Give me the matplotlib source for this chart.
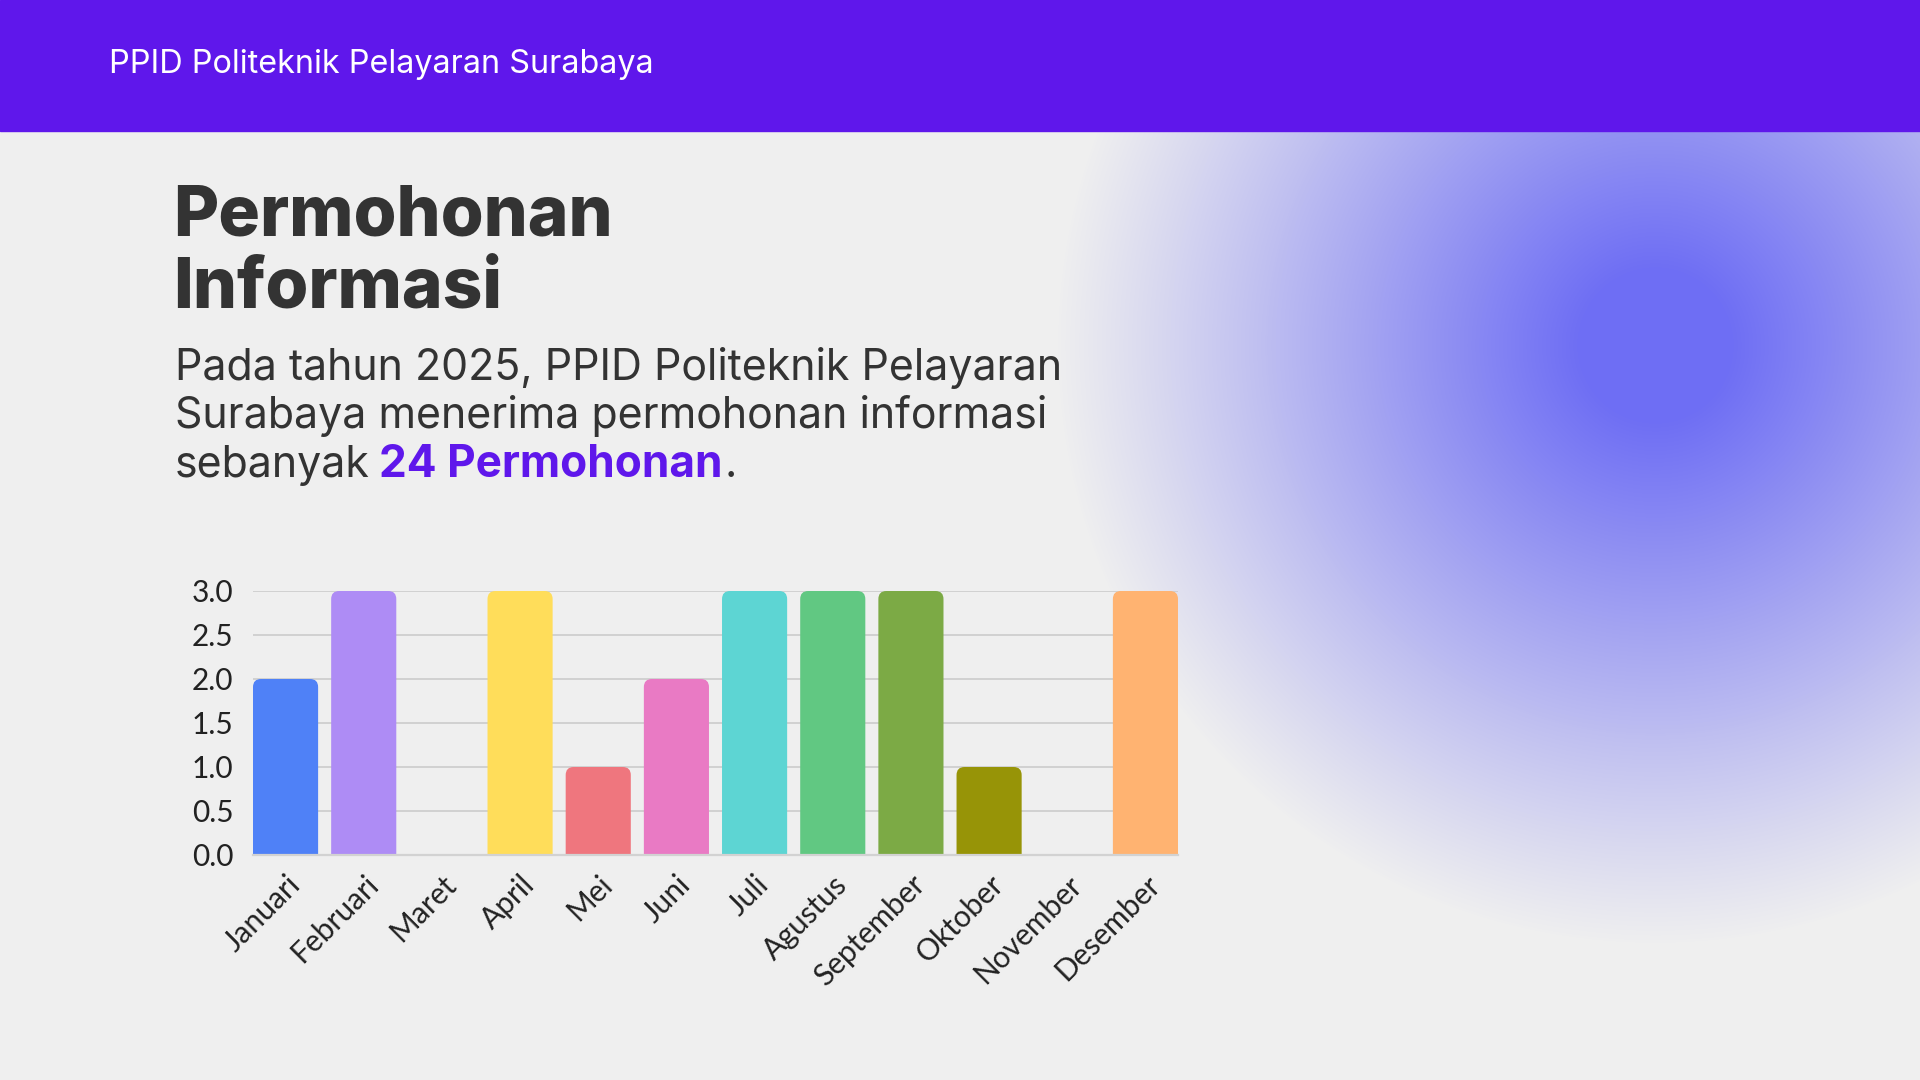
import numpy as np
import matplotlib.pyplot as plt
from matplotlib.patches import FancyBboxPatch, Rectangle

# data
bulan = ["Januari", "Februari", "Maret", "April", "Mei", "Juni", "Juli",
         "Agustus", "September", "Oktober", "November", "Desember"]
jumlah = [2, 3, 0, 3, 1, 2, 3, 3, 3, 1, 0, 3]
warna = ["#4f81f7", "#ae8cf5", "#9e9e9e", "#ffdd5a", "#ef767e", "#e97ac4",
         "#5dd5d3", "#61c882", "#7caa45", "#979407", "#cccccc", "#ffb371"]
y_ticks = [0.0, 0.5, 1.0, 1.5, 2.0, 2.5, 3.0]
tahun = 2025
total = sum(jumlah)

W, H = 1920, 1080
UNGU = "#5f17eb"
GELAP = "#333333"
BG = "#efefef"

fig = plt.figure(figsize=(19.2, 10.8), dpi=100)
fig.patch.set_facecolor(BG)

# background layer, pixel coordinates (y down)
bg = fig.add_axes([0, 0, 1, 1], zorder=0)
bg.set_xlim(0, W)
bg.set_ylim(H, 0)
bg.set_axis_off()

# soft purple glow on the right
yy, xx = np.mgrid[0:H, 0:W]
r = np.hypot(xx - 1655, yy - 345)
t = np.clip(1 - r / 600, 0, 1)
a = np.clip(t * 1.15, 0, 1) ** 1.05
img = np.zeros((H, W, 4))
img[..., 0] = 0.435
img[..., 1] = 0.435
img[..., 2] = 0.957
img[..., 3] = a
bg.imshow(img, extent=(0, W, H, 0), interpolation="bilinear", zorder=0)

# header bar
bg.add_patch(Rectangle((0, 0), W, 131, color=UNGU, zorder=2))
bg.text(109, 64, "PPID Politeknik Pelayaran Surabaya", color="white",
        fontsize=23.3, family="Inter", va="center", ha="left", zorder=3)

# title
bg.text(173, 236, "Permohonan", color=GELAP, fontsize=50, family="Inter",
        fontweight="heavy", va="baseline", zorder=3)
bg.text(173, 308, "Informasi", color=GELAP, fontsize=50, family="Inter",
        fontweight="heavy", va="baseline", zorder=3)

# subtitle
sub_fs = 30.9
bg.text(175, 380, f"Pada tahun {tahun}, PPID Politeknik Pelayaran", color=GELAP,
        fontsize=sub_fs, family="Inter", va="baseline", zorder=3)
bg.text(175, 428, "Surabaya menerima permohonan informasi", color=GELAP,
        fontsize=sub_fs, family="Inter", va="baseline", zorder=3)
t1 = bg.text(175, 477, "sebanyak", color=GELAP, fontsize=sub_fs,
             family="Inter", va="baseline", zorder=3)
fig.canvas.draw()
rend = fig.canvas.get_renderer()
inv = bg.transData.inverted()
x1 = inv.transform(t1.get_window_extent(rend))[1][0]
t2 = bg.text(x1 + 9, 477, f"{total} Permohonan", color=UNGU, fontsize=31.8,
             family="Inter", fontweight="bold", va="baseline", zorder=3)
x2 = inv.transform(t2.get_window_extent(rend))[1][0]
bg.text(x2 + 2, 477, ".", color=GELAP, fontsize=sub_fs, family="Inter",
        va="baseline", zorder=3)

# bar chart
ax = fig.add_axes([253 / W, 1 - 855 / H, 925 / W, 264 / H], zorder=5)
ax.patch.set_alpha(0)
lebar = 0.833
x = np.arange(len(bulan))
bars = ax.bar(x, jumlah, width=lebar, color=warna)
ax.set_xlim(-lebar / 2, len(bulan) - 1 + lebar / 2)
ax.set_ylim(0, 3)

# rounded tops
rad = 0.103
asp = 0.886
for b, c in zip(bars, warna):
    h = b.get_height()
    b.set_visible(False)
    if h <= 0:
        continue
    p = FancyBboxPatch((b.get_x(), -0.3), b.get_width(), h + 0.3,
                       boxstyle=f"round,pad=0,rounding_size={rad}",
                       mutation_aspect=asp, fc=c, ec="none", zorder=3)
    ax.add_patch(p)

ax.set_yticks(y_ticks, [f"{v:.1f}" for v in y_ticks])
ax.set_xticks(x, bulan, rotation=45, ha="right", va="top",
              rotation_mode="anchor")
for lbl in ax.get_xticklabels() + ax.get_yticklabels():
    lbl.set_family("Lato")
    lbl.set_color("#222222")
ax.tick_params(axis="y", length=0, labelsize=21.5, pad=14)
ax.tick_params(axis="x", length=0, labelsize=21.5, pad=11)
ax.yaxis.grid(True, color="#c9c9c9", linewidth=1.1)
ax.set_axisbelow(True)
for s in ["left", "right", "top"]:
    ax.spines[s].set_visible(False)
ax.spines["bottom"].set_color("#d2d2d2")
ax.spines["bottom"].set_linewidth(1.6)
ax.spines["bottom"].set_zorder(4)

fig.savefig("out.png", dpi=100, facecolor=BG)
